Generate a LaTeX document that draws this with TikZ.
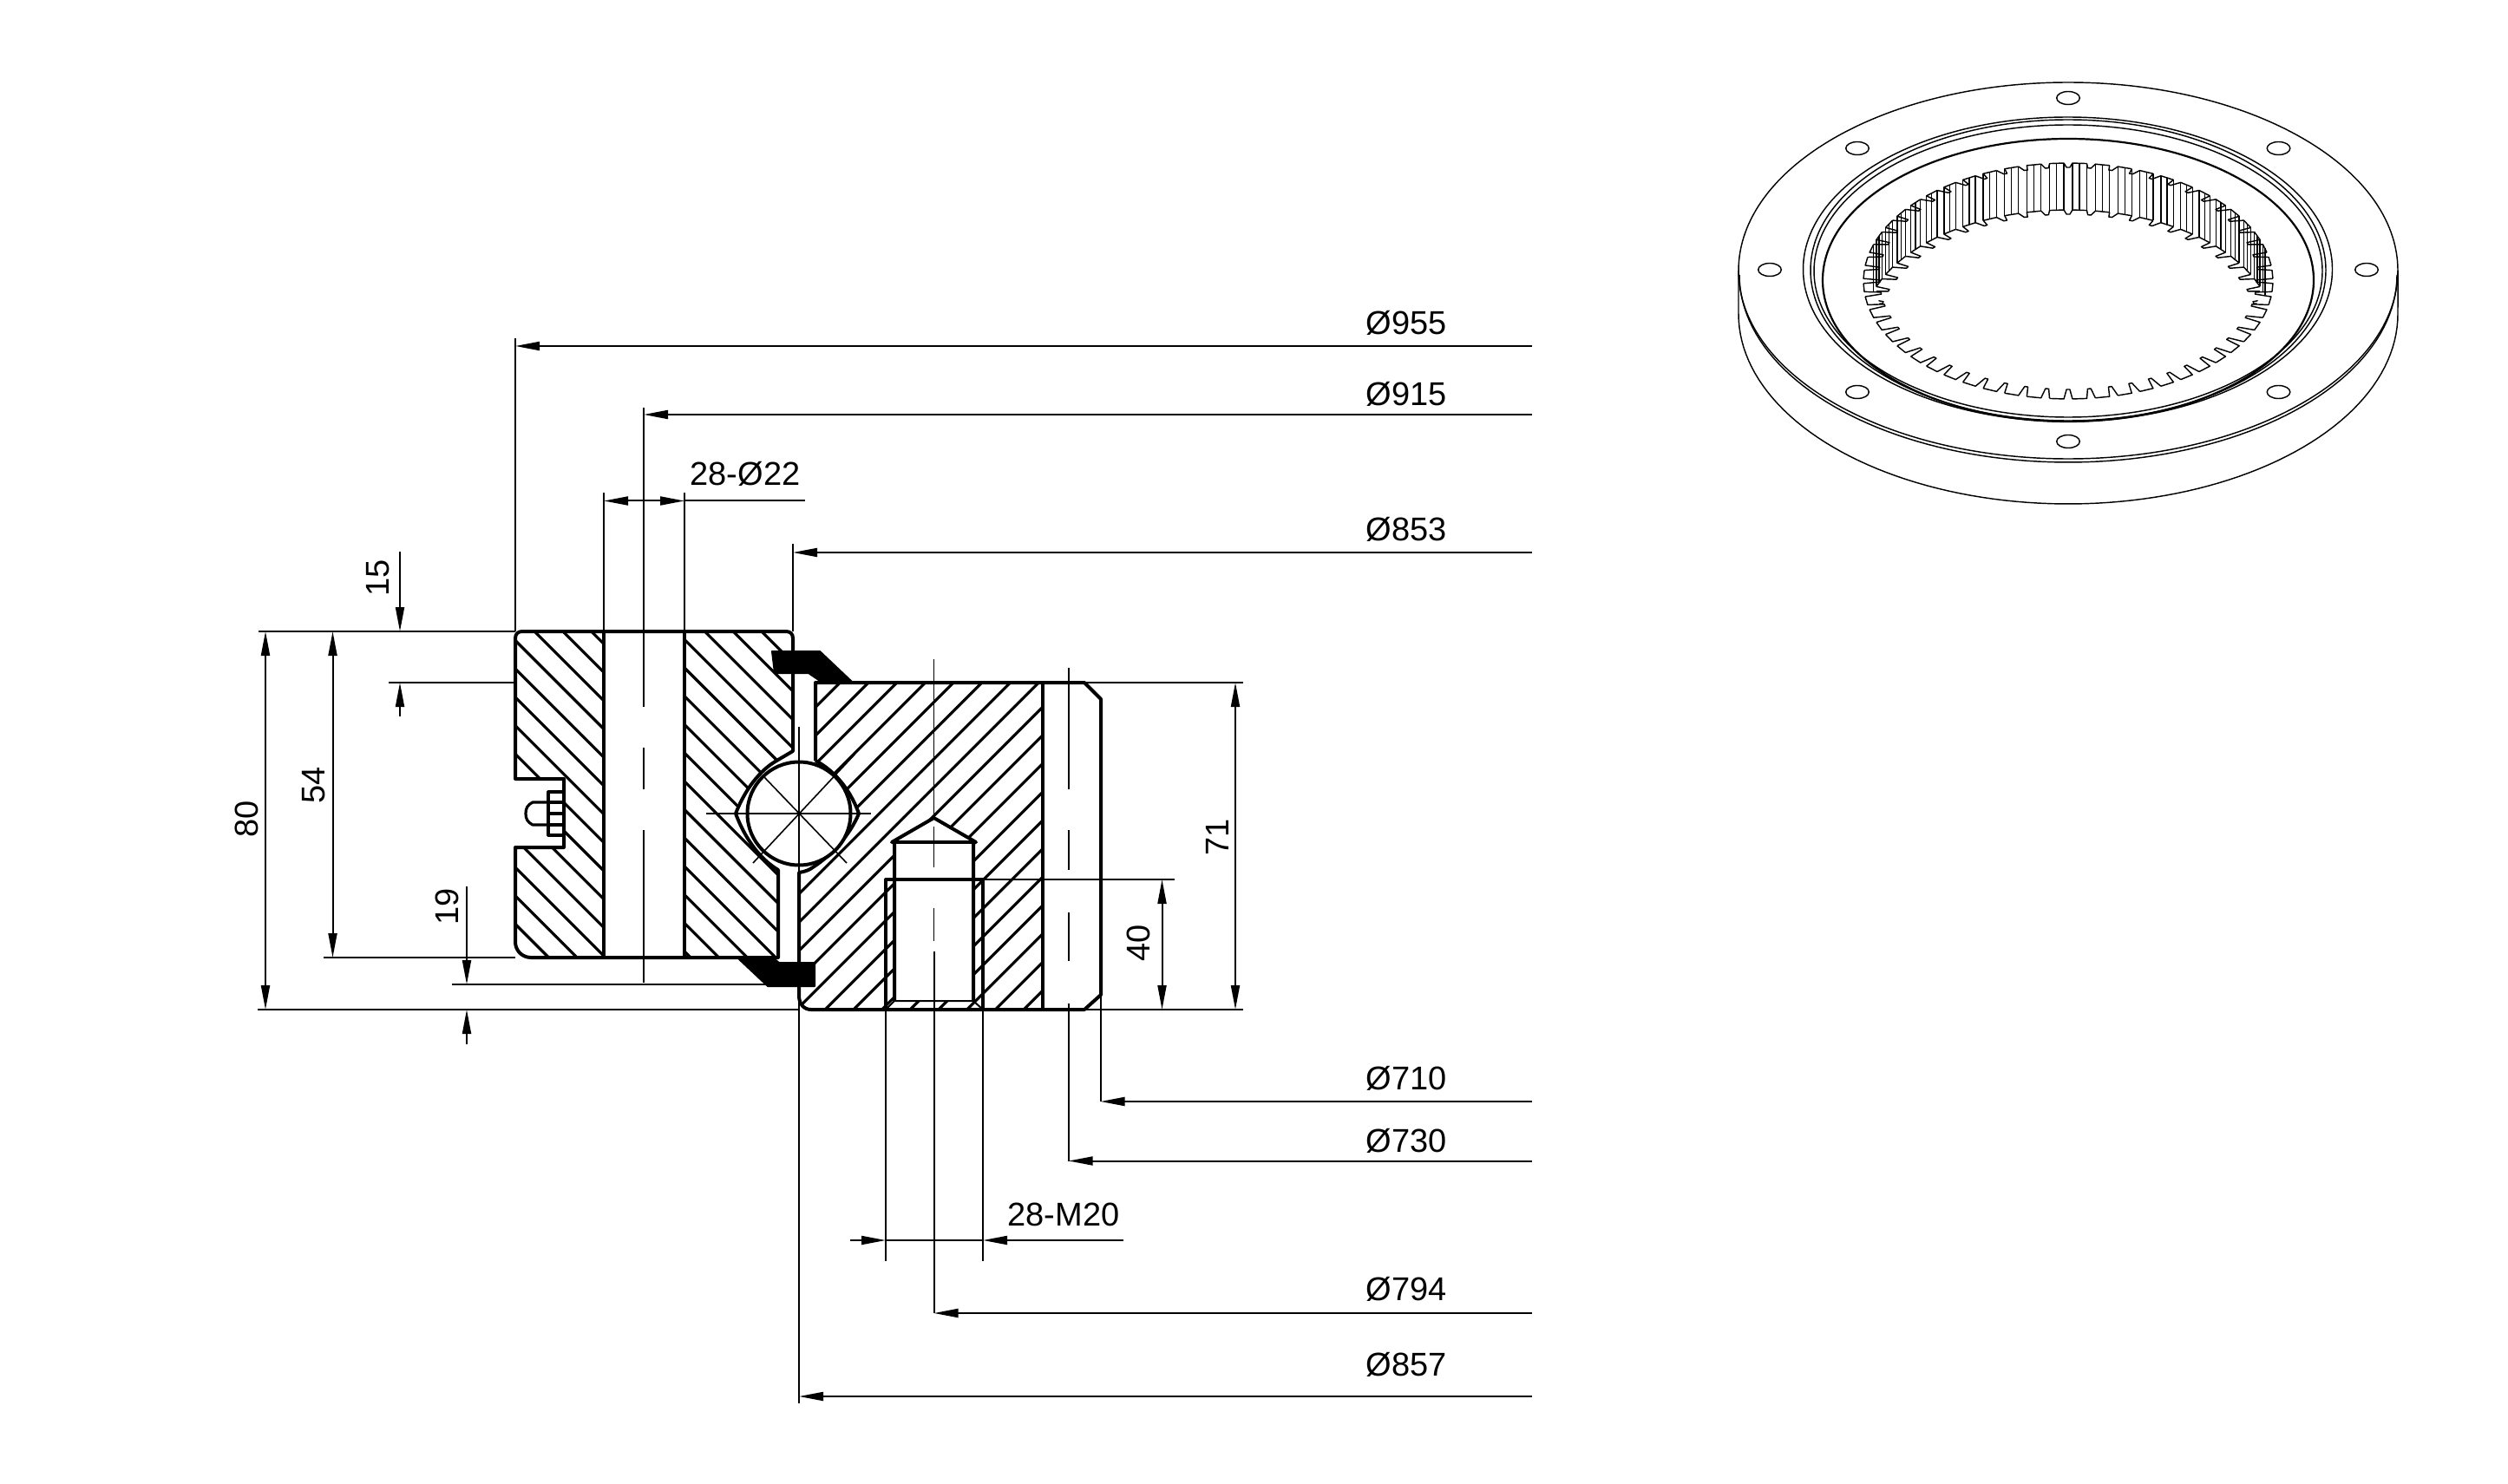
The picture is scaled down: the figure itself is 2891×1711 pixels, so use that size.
\documentclass[tikz,border=0pt]{standalone}
\usepackage{fontspec}
\setmainfont{Liberation Sans}
\usetikzlibrary{arrows.meta}

\tikzset{
    part/.style={line width=1pt, line join=round},
    hatchline/.style={line width=.8pt},
    dimline/.style={line width=.5pt},
    centerline/.style={line width=.4pt},
    gearline/.style={line width=.36pt, line join=round},
    tip/.style={-{Triangle[length=7pt,width=2.5pt]}},
    tips/.style={{Triangle[length=7pt,width=2.5pt]}-{Triangle[length=7pt,width=2.5pt]}},
    dimlabel/.style={font=\fontsize{9.5}{11}\selectfont, inner sep=0pt, anchor=base},
    vlabel/.style={dimlabel, rotate=90},
}

\begin{document}
\begin{tikzpicture}[x=.25pt, y=-.25pt]
    \useasboundingbox (0,0) rectangle (2891,1711);

    % section hatching
    \begin{scope}
        \clip (602,728) -- (906,728) .. controls (911,728) and (914,731) .. (914,736) -- (914,866)
            -- (897,876) .. controls (875,888) and (858,912) .. (848,938) .. controls (858,965) and (875,990) .. (897,1003)
            -- (897,1104) -- (612,1104) .. controls (602,1104) and (594,1096) .. (594,1086) -- (594,977) -- (650,977)
            -- (650,898) -- (594,898) -- (594,736) .. controls (594,731) and (597,728) .. (602,728) -- cycle;
        \foreach \k [evaluate=\k as \c using -144.5+32.7*\k] in {-12,...,10}
            \draw[hatchline] (\c+700,700) -- (\c+1120,1120);
    \end{scope}
    \begin{scope}
        \clip (940,787) -- (1202,787) -- (1202,1164) -- (935,1164) .. controls (927,1164) and (921,1158) .. (921,1148)
            -- (921,1006) .. controls (928,1005) and (933,1003) .. (937,1000) .. controls (960,985) and (980,962) .. (990,938)
            .. controls (982,915) and (965,890) .. (940,877) -- cycle;
        \foreach \k [evaluate=\k as \s using 2017+32.7*\k] in {-10,...,11}
            \draw[hatchline] (\s-770,770) -- (\s-1180,1180);
    \end{scope}
    \fill[white] (696,728) rectangle (789,1104);
    \fill[white] (1031,971) -- (1028,971) -- (1076.5,943) -- (1125,971) -- (1122,971) -- (1122,1154) -- (1031,1154) -- cycle;

    % outer ring
    \draw[part] (602,728) -- (906,728) .. controls (911,728) and (914,731) .. (914,736) -- (914,866)
        -- (897,876) .. controls (875,888) and (858,912) .. (848,938) .. controls (858,965) and (875,990) .. (897,1003)
        -- (897,1104) -- (612,1104) .. controls (602,1104) and (594,1096) .. (594,1086) -- (594,977) -- (650,977)
        -- (650,898) -- (594,898) -- (594,736) .. controls (594,731) and (597,728) .. (602,728) -- cycle;
    \draw[part] (696,728) -- (696,1104) (789,728) -- (789,1104);

    % plug in the groove
    \draw[part, line width=.8pt] (650,913) -- (632,913) -- (632,963) -- (650,963);
    \draw[part, line width=.8pt] (650,925) -- (632,925) (650,938) -- (632,938) (650,951) -- (632,951);
    \draw[part, line width=.8pt] (632,925) -- (614,925) .. controls (608,928) and (606,932) .. (606,938)
        .. controls (606,944) and (608,948) .. (614,951) -- (632,951);

    % inner ring
    \draw[part] (940,877) -- (940,787) -- (1250,787) -- (1269,806) -- (1269,1147) -- (1250,1164) -- (935,1164)
        .. controls (927,1164) and (921,1158) .. (921,1148) -- (921,1006)
        .. controls (928,1005) and (933,1003) .. (937,1000) .. controls (960,985) and (980,962) .. (990,938)
        .. controls (982,915) and (965,890) .. (940,877);
    \draw[part] (1202,787) -- (1202,1164);

    % blind thread
    \draw[part] (1031,1154) -- (1031,971) -- (1028,971) -- (1076.5,943) -- (1125,971) -- (1122,971) -- (1122,1154);
    \draw[part] (1028,971) -- (1125,971);
    \draw[part] (1021,1164) -- (1021,1014) -- (1133,1014) -- (1133,1164);
    \draw[dimline] (1021,1164) -- (1031,1154) -- (1122,1154) -- (1133,1164);

    % ball
    \coordinate (ballc) at (921,938);
    \draw[part, fill=white] (ballc) circle [radius=59.5];
    \draw[centerline] (814,938) -- (1004,938) (921,838) -- (921,1006);
    \draw[centerline] (880,895) -- (976,995) (868,995) -- (985,870);

    % seals
    \fill[line join=round, draw, line width=.5pt] (890,751) -- (945,751) -- (983,787) -- (948,787) -- (932,776) -- (893,776) -- cycle;
    \fill[line join=round, draw, line width=.5pt] (852,1106) -- (893,1106) -- (898,1110) -- (939,1110) -- (939,1137) -- (885,1137) -- cycle;

    % center lines
    \draw[dimline] (742,470) -- (742,638);
    \draw[centerline] (742,638) -- (742,815) (742,862) -- (742,910) (742,957) -- (742,1133);
    \draw[centerline] (1076.5,760) -- (1076.5,940) (1076.5,953) -- (1076.5,1000) (1076.5,1047) -- (1076.5,1085);
    \draw[dimline] (1076.5,1097) -- (1076.5,1514);
    \draw[centerline] (1231.7,770) -- (1231.7,910) (1231.7,957) -- (1231.7,1003) (1231.7,1052) -- (1231.7,1108);
    \draw[dimline] (1231.7,1157) -- (1231.7,1339);

    % extension lines
    \draw[dimline] (594,390) -- (594,728) (696,568) -- (696,728) (789,568) -- (789,728) (914,627) -- (914,728);
    \draw[dimline] (298,728) -- (594,728) (448,787) -- (594,787) (373,1104) -- (594,1104) (521,1135) -- (885,1135) (297,1164) -- (921,1164);
    \draw[dimline] (1250,787) -- (1433,787) (1133,1014) -- (1354,1014) (1250,1164) -- (1433,1164);
    \draw[dimline] (921,1140) -- (921,1618) (1021,1164) -- (1021,1454) (1133,1164) -- (1133,1454) (1268.5,1147) -- (1268.5,1270);

    % diameters
    \foreach \name/\xa/\ya/\txt/\ty in {a/594/399/955/372, b/742/478/915/454, c/914/637/853/610, d/1268.5/1270/710/1243, e/1231.7/1338.5/730/1315, f/1076.5/1514/794/1486, g/921/1610/857/1573} {
        \draw[dimline, tip] (1766,\ya) -- (\xa,\ya);
        \node[dimlabel] (dia\name) at (1621,\ty+13.5) {Ø\txt};
    }

    % hole and thread
    \draw[dimline, tip] (742,577.5) -- (696,577.5);
    \draw[dimline, tip] (742,577.5) -- (789,577.5);
    \draw[dimline] (789,577.5) -- (928,577.5);
    \node[dimlabel] (holelabel) at (859,559.5) {28-Ø22};
    \draw[dimline, tip] (980,1430) -- (1021,1430);
    \draw[dimline, tip] (1295,1430) -- (1133,1430);
    \draw[dimline] (1021,1430) -- (1133,1430);
    \node[dimlabel] (threadlabel) at (1226,1413.5) {28-M20};

    % heights
    \draw[dimline, tips] (306,728) -- (306,1164);
    \node[vlabel] (heightall) at (284+13.5,944) {80};
    \draw[dimline, tips] (383.5,728) -- (383.5,1104);
    \node[vlabel] (heightbore) at (361+13.5,905) {54};
    \draw[dimline, tip] (461,636) -- (461,728);
    \draw[dimline, tip] (461,826) -- (461,787);
    \node[vlabel] (heightstep) at (435+13.5,666) {15};
    \draw[dimline, tip] (538,1022) -- (538,1135);
    \draw[dimline, tip] (538,1204) -- (538,1164);
    \node[vlabel] (heightseal) at (515+13.5,1045) {19};
    \draw[dimline, tips] (1339.5,1014) -- (1339.5,1164);
    \node[vlabel] (heightthread) at (1312+13.5,1087) {40};
    \draw[dimline, tips] (1424,787) -- (1424,1164);
    \node[vlabel] (heightinner) at (1403+13.5,965) {71};

    % ring view
    \draw[gearline] (2384,312) ellipse [x radius=380, y radius=217];
    \draw[gearline] plot[domain=0:180, samples=90] ({2384+379*cos(\x)},{317+216*sin(\x)});
    \draw[gearline] (2004,312) -- (2004,362) plot[domain=180:0, samples=90] ({2384+380*cos(\x)},{362+219*sin(\x)}) -- (2764,312);
    \foreach \px/\py in {2384/113, 2141/171, 2626.5/171, 2040/311, 2728/311, 2141/452, 2626.5/452, 2384/509}
        \draw[gearline] (\px,\py) ellipse [x radius=13.3, y radius=7.5];
    \draw[gearline] (2383.5,310.5) ellipse [x radius=305, y radius=175.5];
    \draw[gearline] (2384,311.5) ellipse [x radius=297, y radius=173.5];
    \draw[gearline] (2384,312.5) ellipse [x radius=293, y radius=168.5];
    \draw[gearline, line width=.55pt] (2384,323) ellipse [x radius=283, y radius=163];

    % teeth, near side of the top face
    \foreach \i [evaluate=\i as \a using \i*6.4286] in {0,...,28} {
        \draw[gearline] ({2384+236*cos(\a-1.2)},{324+136*sin(\a-1.2)}) -- ({2384+217*cos(\a-.5)},{324+125*sin(\a-.5)})
            -- ({2384+217*cos(\a+.5)},{324+125*sin(\a+.5)}) -- ({2384+236*cos(\a+1.2)},{324+136*sin(\a+1.2)})
            -- ({2384+236*cos(\a+5.23)},{324+136*sin(\a+5.23)});
    }
    % teeth, far side of the top face
    \foreach \i [evaluate=\i as \a using \i*6.4286] in {29,...,55} {
        \draw[gearline] ({2384+236*cos(\a-1.2)},{324+136*sin(\a-1.2)}) -- ({2384+219*cos(\a-.5)},{324+131*sin(\a-.5)})
            -- ({2384+219*cos(\a+.5)},{324+131*sin(\a+.5)}) -- ({2384+236*cos(\a+1.2)},{324+136*sin(\a+1.2)})
            -- ({2384+236*cos(\a+5.23)},{324+136*sin(\a+5.23)});
    }
    % bottom face on the far side
    \begin{scope}
        \clip (2384,324) ellipse [x radius=222, y radius=128];
        \foreach \i [evaluate=\i as \a using \i*6.4286] in {26,...,58} {
            \draw[gearline] ({2384+236*cos(\a-1.2)},{378+136*sin(\a-1.2)}) -- ({2384+219*cos(\a-.5)},{378+131*sin(\a-.5)})
                -- ({2384+219*cos(\a+.5)},{378+131*sin(\a+.5)}) -- ({2384+236*cos(\a+1.2)},{378+136*sin(\a+1.2)})
                -- ({2384+236*cos(\a+5.23)},{378+136*sin(\a+5.23)});
        }
    \end{scope}
    % flanks
    \begin{scope}
        \clip (2384,324) ellipse [x radius=238, y radius=137];
        \foreach \i [evaluate=\i as \a using \i*6.4286] in {31,...,53} {
            \foreach \o in {-1.2, 1.2, 3.2}
                \draw[gearline] ({2384+236*cos(\a+\o)},{324+136*sin(\a+\o)}) -- ({2384+236*cos(\a+\o)},{378+136*sin(\a+\o)});
        }
    \end{scope}
\end{tikzpicture}
\end{document}
